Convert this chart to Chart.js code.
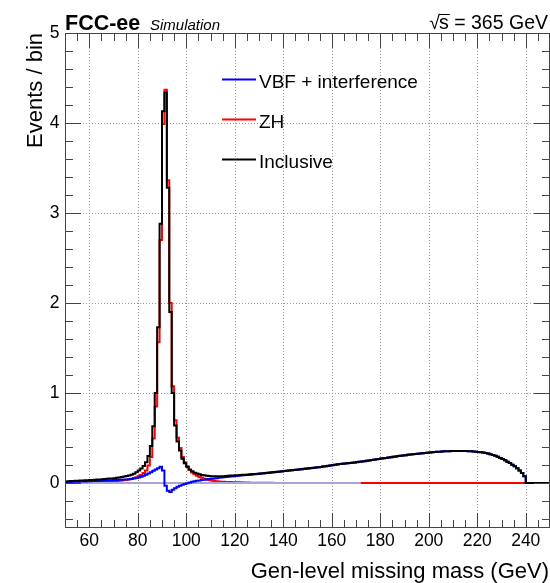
<!DOCTYPE html>
<html><head><meta charset="utf-8">
<script src="https://cdn.jsdelivr.net/npm/chart.js@4.4.1/dist/chart.umd.min.js"></script>
<style>html,body{margin:0;padding:0;background:#fff}canvas{display:block}</style>
</head><body>
<canvas id="c" width="550" height="583"></canvas>
<script>
// Histogram binning (GeV)
const binLow = 50;
const binWidth = 1;

// VBF + interference, per 1 GeV bin from 50 to 250
const vbf = [
0.010,0.011,0.012,0.013,0.014,0.015,0.016,0.017,0.018,0.019,
0.020,0.021,0.022,0.023,0.024,0.026,0.027,0.028,0.030,0.031,
0.033,0.034,0.035,0.037,0.038,0.040,0.042,0.045,0.049,0.055,
0.062,0.070,0.080,0.092,0.105,0.120,0.135,0.150,0.165,0.180,
0.140,-0.030,-0.085,-0.100,-0.075,-0.057,-0.042,-0.030,-0.019,-0.010,
-0.002,0.006,0.013,0.019,0.024,0.029,0.033,0.037,0.041,0.045,
0.048,0.051,0.054,0.057,0.060,0.063,0.066,0.069,0.072,0.075,
0.078,0.080,0.083,0.085,0.088,0.090,0.093,0.095,0.098,0.100,
0.102,0.105,0.108,0.111,0.114,0.117,0.120,0.123,0.126,0.129,
0.132,0.135,0.138,0.141,0.144,0.147,0.150,0.153,0.156,0.159,
0.162,0.165,0.168,0.171,0.174,0.178,0.182,0.186,0.190,0.194,
0.198,0.202,0.206,0.210,0.213,0.216,0.219,0.222,0.225,0.228,
0.231,0.235,0.239,0.243,0.247,0.251,0.255,0.259,0.263,0.267,
0.271,0.275,0.279,0.283,0.287,0.291,0.295,0.299,0.302,0.306,
0.309,0.313,0.316,0.319,0.322,0.325,0.328,0.331,0.334,0.337,
0.340,0.342,0.344,0.346,0.348,0.350,0.352,0.353,0.354,0.355,
0.355,0.356,0.356,0.356,0.355,0.355,0.354,0.352,0.350,0.348,
0.345,0.342,0.338,0.333,0.327,0.320,0.312,0.302,0.291,0.279,
0.266,0.252,0.237,0.221,0.204,0.185,0.164,0.140,0.112,0.075,
0,0,0,0,0,0,0,0,0,0
];

// ZH
const zh = [
0.008,0.008,0.009,0.009,0.010,0.010,0.011,0.011,0.012,0.012,
0.013,0.013,0.014,0.015,0.015,0.016,0.017,0.018,0.019,0.020,
0.021,0.023,0.026,0.029,0.033,0.037,0.042,0.048,0.055,0.065,
0.078,0.090,0.110,0.138,0.195,0.290,0.495,0.850,1.565,2.700,
3.990,4.370,3.365,2.000,1.075,0.697,0.502,0.390,0.289,0.230,
0.182,0.144,0.117,0.096,0.081,0.068,0.057,0.048,0.039,0.032,
0.027,0.023,0.020,0.017,0.015,0.013,0.012,0.011,0.010,0.009,
0.008,0.007,0.007,0.006,0.005,0.005,0.004,0.004,0.003,0.003,
0.003,0.002,0.002,0.002,0.002,0.002,0.001,0.001,0.001,0.001,
0.001,0.001,0.001,0.001,0.001,0.001,0.001,0.001,0.001,0.001,
0.001,0.001,0.001,0.001,0.001,0.001,0.001,0.001,0.001,0.001,
0.001,0.001,0.001,0.001,0.001,0.001,0.001,0.001,0.001,0.001,
0.001,0.001,0,0,0,0,0,0,0,0,
0,0,0,0,0,0,0,0,0,0,
0,0,0,0,0,0,0,0,0,0,
0,0,0,0,0,0,0,0,0,0,
0,0,0,0,0,0,0,0,0,0,
0,0,0,0,0,0,0,0,0,0,
0,0,0,0,0,0,0,0,0,0,
0,0,0,0,0,0,0,0,0,0
];

// Inclusive
const inclusive = [
0.018,0.019,0.021,0.022,0.024,0.025,0.027,0.028,0.030,0.031,
0.033,0.034,0.036,0.038,0.039,0.042,0.044,0.046,0.049,0.051,
0.054,0.057,0.061,0.066,0.071,0.077,0.084,0.093,0.104,0.120,
0.140,0.160,0.190,0.230,0.300,0.410,0.630,1.000,1.730,2.880,
4.130,4.340,3.280,1.900,1.000,0.640,0.460,0.360,0.270,0.220,
0.180,0.150,0.130,0.115,0.105,0.097,0.090,0.085,0.080,0.077,
0.075,0.074,0.074,0.074,0.075,0.076,0.078,0.080,0.082,0.084,
0.086,0.087,0.090,0.091,0.093,0.095,0.097,0.099,0.101,0.103,
0.105,0.107,0.110,0.113,0.116,0.119,0.121,0.124,0.127,0.130,
0.133,0.136,0.139,0.142,0.145,0.148,0.151,0.154,0.157,0.160,
0.163,0.166,0.169,0.172,0.175,0.179,0.183,0.187,0.191,0.195,
0.199,0.203,0.207,0.211,0.214,0.217,0.220,0.223,0.226,0.229,
0.232,0.236,0.239,0.243,0.247,0.251,0.255,0.259,0.263,0.267,
0.271,0.275,0.279,0.283,0.287,0.291,0.295,0.299,0.302,0.306,
0.309,0.313,0.316,0.319,0.322,0.325,0.328,0.331,0.334,0.337,
0.340,0.342,0.344,0.346,0.348,0.350,0.352,0.353,0.354,0.355,
0.355,0.356,0.356,0.356,0.355,0.355,0.354,0.352,0.350,0.348,
0.345,0.342,0.338,0.333,0.327,0.320,0.312,0.302,0.291,0.279,
0.266,0.252,0.237,0.221,0.204,0.185,0.164,0.140,0.112,0.075,
0,0,0,0,0,0,0,0,0,0
];

// Reference line at zero (x range in GeV)
const zeroLineX = [50, 172];

// Axis ticks
const xTicks = [60, 80, 100, 120, 140, 160, 180, 200, 220, 240];
const yTicks = [0, 1, 2, 3, 4, 5];
const xMinorStep = 5;
const yMinorStep = 0.2;

const legendLabels = ['VBF + interference', 'ZH', 'Inclusive'];
const legendColors = ['#0000ff', '#ff0000', '#000000'];

const FONT = '"Liberation Sans", Arial, Helvetica, sans-serif';

function toSteps(vals) {
  const pts = vals.map((v, i) => ({ x: binLow + i * binWidth, y: v }));
  pts.push({ x: binLow + vals.length * binWidth, y: vals[vals.length - 1] });
  return pts;
}

const decor = {
  id: 'decor',
  beforeDatasetsDraw(chart) {
    const { ctx, chartArea: a, scales: { x, y } } = chart;
    ctx.save();
    ctx.strokeStyle = '#9a9a9a';
    ctx.lineWidth = 1;
    ctx.setLineDash([1, 2]);
    xTicks.forEach(v => {
      const px = Math.round(x.getPixelForValue(v)) + 0.5;
      ctx.beginPath(); ctx.moveTo(px, a.top); ctx.lineTo(px, a.bottom); ctx.stroke();
    });
    yTicks.forEach(v => {
      const py = Math.round(y.getPixelForValue(v)) + 0.5;
      ctx.beginPath(); ctx.moveTo(a.left, py); ctx.lineTo(a.right, py); ctx.stroke();
    });
    ctx.restore();
  },
  afterDatasetsDraw(chart) {
    const { ctx, chartArea: a, scales: { x, y } } = chart;
    ctx.save();
    ctx.strokeStyle = '#444';
    ctx.lineWidth = 1;
    ctx.setLineDash([]);
    // frame
    ctx.strokeRect(a.left + 0.5, a.top + 0.5, a.right - a.left - 1, a.bottom - a.top - 1);
    // x ticks
    for (let v = x.min; v <= x.max + 1e-9; v += xMinorStep) {
      const major = xTicks.includes(Math.round(v));
      const len = major ? 15 : 8;
      const px = Math.round(x.getPixelForValue(v)) + 0.5;
      ctx.beginPath();
      ctx.moveTo(px, a.bottom); ctx.lineTo(px, a.bottom - len);
      ctx.moveTo(px, a.top); ctx.lineTo(px, a.top + len);
      ctx.stroke();
    }
    // y ticks
    for (let k = 0; ; k++) {
      const v = -0.4 + k * yMinorStep;
      if (v > y.max + 1e-9) break;
      const major = yTicks.some(t => Math.abs(t - v) < 1e-6);
      const len = major ? 16 : 8;
      const py = Math.round(y.getPixelForValue(v)) + 0.5;
      ctx.beginPath();
      ctx.moveTo(a.left, py); ctx.lineTo(a.left + len, py);
      ctx.moveTo(a.right, py); ctx.lineTo(a.right - len, py);
      ctx.stroke();
    }
    ctx.restore();
  },
  afterDraw(chart) {
    const { ctx } = chart;
    ctx.save();
    ctx.fillStyle = '#000';
    ctx.textBaseline = 'alphabetic';
    // header
    ctx.font = 'bold 21.5px ' + FONT;
    ctx.textAlign = 'left';
    ctx.fillText('FCC-ee', 65, 30);
    ctx.font = 'italic 15px ' + FONT;
    ctx.fillText('Simulation', 150, 29.5);
    ctx.font = '19.5px ' + FONT;
    const rest = 's = 365 GeV';
    const w = ctx.measureText(rest).width;
    const xs = 548 - w;
    ctx.fillText(rest, xs, 28.5);
    const wr = ctx.measureText('\u221A').width;
    ctx.fillText('\u221A', xs - wr + 1, 28.5);
    const wsq = ctx.measureText('s').width;
    ctx.strokeStyle = '#000'; ctx.lineWidth = 1;
    ctx.beginPath(); ctx.moveTo(xs, 14.5); ctx.lineTo(xs + wsq + 1, 14.5); ctx.stroke();
    // axis titles
    ctx.font = '22px ' + FONT;
    ctx.textAlign = 'right';
    ctx.fillText('Gen-level missing mass (GeV)', 549, 578);
    ctx.save();
    ctx.translate(41.5, 33);
    ctx.rotate(-Math.PI / 2);
    ctx.textAlign = 'right';
    ctx.fillText('Events / bin', 0, 0);
    ctx.restore();
    // legend
    ctx.font = '19px ' + FONT;
    ctx.textAlign = 'left';
    legendLabels.forEach((lab, i) => {
      const ly = 79.5 + i * 40;
      ctx.strokeStyle = legendColors[i];
      ctx.lineWidth = 2;
      ctx.beginPath(); ctx.moveTo(222, ly); ctx.lineTo(256, ly); ctx.stroke();
      ctx.fillText(lab, 259, ly + 8);
    });
    ctx.restore();
  }
};

const tickFont = { family: FONT, size: 17.5 };

new Chart(document.getElementById('c'), {
  type: 'line',
  data: {
    datasets: [
      { label: legendLabels[2], data: toSteps(inclusive), borderColor: legendColors[2], borderWidth: 2, stepped: 'before', pointRadius: 0, fill: false, order: 0 },
      { label: legendLabels[0], data: toSteps(vbf), borderColor: legendColors[0], borderWidth: 2, stepped: 'before', pointRadius: 0, fill: false, order: 1 },
      { label: 'zero', data: zeroLineX.map(v => ({ x: v, y: 0 })), borderColor: '#a6a6d8', borderWidth: 2, pointRadius: 0, fill: false, order: 2 },
      { label: legendLabels[1], data: toSteps(zh), borderColor: legendColors[1], borderWidth: 2, stepped: 'before', pointRadius: 0, fill: false, order: 3 }
    ]
  },
  options: {
    responsive: false,
    animation: false,
    devicePixelRatio: 1,
    layout: { padding: { top: 33, right: 0, left: 0, bottom: 0 } },
    plugins: { legend: { display: false }, tooltip: { enabled: false } },
    elements: { line: { tension: 0 } },
    scales: {
      x: {
        type: 'linear', min: 50, max: 250,
        grid: { display: false, drawTicks: false },
        border: { display: false },
        afterBuildTicks: s => { s.ticks = xTicks.map(v => ({ value: v })); },
        afterFit: s => { s.height = 55; },
        ticks: { font: tickFont, color: '#000', padding: 3, maxRotation: 0, autoSkip: false }
      },
      y: {
        type: 'linear', min: -0.5, max: 5,
        grid: { display: false, drawTicks: false },
        border: { display: false },
        afterBuildTicks: s => { s.ticks = yTicks.map(v => ({ value: v })); },
        afterFit: s => { s.width = 65; },
        ticks: { font: tickFont, color: '#000', padding: 5.5, autoSkip: false }
      }
    }
  },
  plugins: [decor]
});
</script>
</body></html>
